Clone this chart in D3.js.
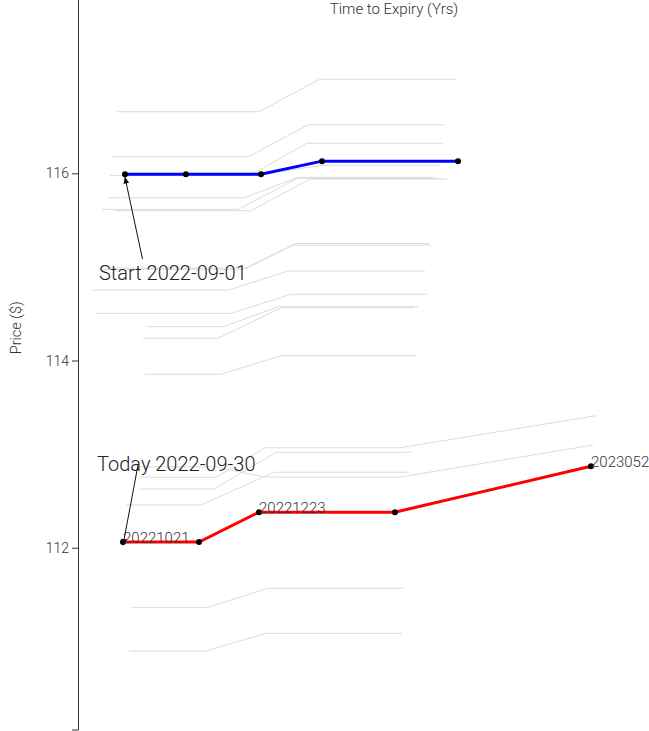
<!DOCTYPE html>
<html>
<head>
<meta charset="utf-8">
<script src="https://cdn.jsdelivr.net/npm/d3@7"></script>
<style>
  html, body { margin: 0; padding: 0; background: #fff; }
  svg { display: block; font-family: Roboto, "Noto Sans", sans-serif; }
</style>
</head>
<body>
<svg id="chart" width="649" height="731"></svg>
<script>
// ---- data ----
const yTicks = [112, 114, 116];
const xTitle = "Time to Expiry (Yrs)";
const yTitle = "Price ($)";

// Start curve (2022-09-01)
const startTimes  = [0.0591, 0.1358, 0.2302, 0.3069, 0.4780];
const startPrices = [115.99, 115.99, 115.99, 116.13, 116.13];

// Today curve (2022-09-30)
const todayTimes  = [0.0566, 0.1522, 0.2277, 0.3987, 0.6453];
const todayPrices = [112.06, 112.06, 112.38, 112.38, 112.87];
const todayLabels = ["20221021", "", "20221223", "", "20230526"];

// Intermediate historical curves (time to expiry, price)
const histTimes = [
  [0.0491, 0.2281, 0.3035, 0.4751],
  [0.0431, 0.2142, 0.2897, 0.4608],
  [0.0403, 0.2164, 0.2877, 0.4587],
  [0.0503, 0.2226, 0.3065, 0.4553],
  [0.0381, 0.2092, 0.2767, 0.4469],
  [0.0298, 0.2016, 0.2755, 0.4553],
  [0.0465, 0.2172, 0.2918, 0.4638],
  [0.0252, 0.2075, 0.2704, 0.4440],
  [0.0403, 0.2126, 0.2742, 0.4415],
  [0.0192, 0.1891, 0.2645, 0.4365],
  [0.0214, 0.1925, 0.2679, 0.4390],
  [0.0872, 0.1828, 0.2519, 0.4281],
  [0.0814, 0.1757, 0.2562, 0.4230],
  [0.0843, 0.1799, 0.2553, 0.4260],
  [0.0790, 0.1736, 0.2351, 0.4053, 0.6512],
  [0.0767, 0.1711, 0.2491, 0.4195],
  [0.0601, 0.1547, 0.2465, 0.4171],
  [0.0780, 0.1723, 0.2352, 0.4053, 0.6482],
  [0.0675, 0.1631, 0.2386, 0.4092],
  [0.0645, 0.1597, 0.2365, 0.4072]
];
const histPrices = [
  [116.658, 116.658, 117.004, 117.004],
  [116.177, 116.177, 116.519, 116.519],
  [115.975, 115.975, 116.321, 116.321],
  [115.977, 115.977, 116.085, 116.085],
  [115.739, 115.739, 115.957, 115.957],
  [115.615, 115.615, 115.944, 115.944],
  [115.600, 115.600, 115.939, 115.939],
  [114.974, 114.974, 115.234, 115.234],
  [114.988, 114.988, 115.250, 115.250],
  [114.753, 114.753, 114.956, 114.956],
  [114.504, 114.504, 114.707, 114.707],
  [114.361, 114.361, 114.575, 114.575],
  [114.237, 114.237, 114.564, 114.564],
  [113.853, 113.853, 114.051, 114.051],
  [112.752, 112.752, 113.068, 113.068, 113.410],
  [112.627, 112.627, 113.019, 113.019],
  [112.456, 112.456, 112.806, 112.806],
  [112.865, 112.865, 112.755, 112.755, 113.097],
  [111.363, 111.363, 111.566, 111.566],
  [110.896, 110.896, 111.085, 111.085]
];

const startAnnot = "Start 2022-09-01";
const todayAnnot = "Today 2022-09-30";

// ---- scales ----
const svg = d3.select("#chart");
const x = d3.scaleLinear().domain([0, 0.795]).range([78, 710]);
const y = d3.scaleLinear().domain([110.058, 117.905]).range([729.5, -5]);

const line = d3.line().x(d => x(d[0])).y(d => y(d[1]));

const defs = svg.append("defs");
defs.append("marker")
  .attr("id", "arrow")
  .attr("viewBox", "0 0 10 10")
  .attr("refX", 9).attr("refY", 5)
  .attr("markerWidth", 7).attr("markerHeight", 7)
  .attr("markerUnits", "userSpaceOnUse")
  .attr("orient", "auto")
  .append("path").attr("d", "M0,1L10,5L0,9Z").attr("fill", "#111");

// y axis
const yAxis = d3.axisLeft(y).tickValues(yTicks).tickSize(6).tickSizeOuter(6).tickPadding(3);
const gy = svg.append("g").attr("transform", "translate(78,0)").call(yAxis);
gy.select(".domain").attr("stroke", "#333");
gy.selectAll(".tick line").attr("stroke", "#333");
gy.selectAll(".tick text").attr("fill", "#333").attr("font-size", 14).attr("font-weight", 300)
  .attr("font-family", "Roboto, sans-serif");

svg.append("text")
  .attr("transform", `translate(${21},${y(114.35)}) rotate(-90)`)
  .attr("text-anchor", "middle")
  .attr("font-size", 14.5).attr("font-weight", 300).attr("fill", "#333")
  .text(yTitle);

svg.append("text")
  .attr("x", (x.range()[0] + x.range()[1]) / 2).attr("y", 14)
  .attr("text-anchor", "middle")
  .attr("font-size", 15).attr("font-weight", 300).attr("fill", "#333")
  .text(xTitle);

// historical curves
histTimes.forEach((ts, i) => {
  const pts = ts.map((t, j) => [t, histPrices[i][j]]);
  svg.append("path").datum(pts)
    .attr("d", line).attr("fill", "none")
    .attr("stroke", "#dcdcdc").attr("stroke-width", 1);
});

// start and today curves
const startPts = startTimes.map((t, i) => [t, startPrices[i]]);
const todayPts = todayTimes.map((t, i) => [t, todayPrices[i]]);

svg.append("path").datum(startPts).attr("d", line)
  .attr("fill", "none").attr("stroke", "#0000ff").attr("stroke-width", 3);
svg.append("path").datum(todayPts).attr("d", line)
  .attr("fill", "none").attr("stroke", "#ff0000").attr("stroke-width", 3);

svg.selectAll("circle.s").data(startPts).enter().append("circle")
  .attr("cx", d => x(d[0])).attr("cy", d => y(d[1])).attr("r", 3).attr("fill", "#000");
svg.selectAll("circle.t").data(todayPts).enter().append("circle")
  .attr("cx", d => x(d[0])).attr("cy", d => y(d[1])).attr("r", 3).attr("fill", "#000");

svg.selectAll("text.lbl").data(todayPts.map((d, i) => [d, todayLabels[i]]).filter(d => d[1]))
  .enter().append("text")
  .attr("x", d => x(d[0][0])).attr("y", d => y(d[0][1]) + 1)
  .attr("font-size", 15).attr("font-weight", 300).attr("fill", "#333")
  .text(d => d[1]);

// annotations
function annotate(pt, label, tx, ty, ax, ay) {
  svg.append("line")
    .attr("x1", ax).attr("y1", ay)
    .attr("x2", x(pt[0])).attr("y2", y(pt[1]) + 3)
    .attr("stroke", "#111").attr("stroke-width", 1)
    .attr("marker-end", "url(#arrow)");
  svg.append("text").attr("x", tx).attr("y", ty)
    .attr("font-size", 20).attr("font-weight", 300).attr("fill", "#222")
    .text(label);
}
annotate(startPts[0], startAnnot, 99, 280, 142.5, 259);
annotate(todayPts[0], todayAnnot, 97, 471, 138, 465);
</script>
</body>
</html>
